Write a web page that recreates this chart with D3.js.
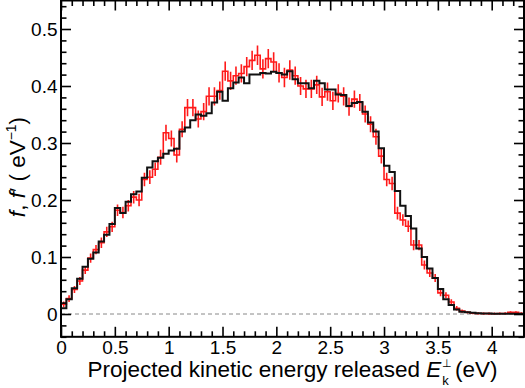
<!DOCTYPE html>
<html>
<head>
<meta charset="utf-8">
<script src="https://cdn.jsdelivr.net/npm/d3@7"></script>
<style>
  body { margin: 0; background: #fff; }
  svg { display: block; font-family: "Liberation Sans", Arial, sans-serif; }
</style>
</head>
<body>
<svg width="525" height="388"></svg>
<script>
// bins of 0.05 eV from 0 to 4.3
const binWidth = 0.05;

// black histogram f
const fBlack = [
  0.010, 0.026, 0.045, 0.062, 0.083, 0.097, 0.108, 0.127, 0.139, 0.158,
  0.186, 0.177, 0.197, 0.210, 0.215, 0.239, 0.257, 0.268, 0.274, 0.281,
  0.287, 0.290, 0.320, 0.327, 0.340, 0.350, 0.348, 0.352, 0.371, 0.390,
  0.374, 0.396, 0.406, 0.415, 0.405, 0.420, 0.420, 0.423, 0.422, 0.425,
  0.423, 0.420, 0.426, 0.412, 0.405, 0.405, 0.396, 0.409, 0.405, 0.394,
  0.394, 0.385, 0.384, 0.365, 0.370, 0.372, 0.355, 0.336, 0.320, 0.291,
  0.260, 0.249, 0.216, 0.190, 0.172, 0.150, 0.115, 0.100, 0.080, 0.063,
  0.044, 0.026, 0.016, 0.008, 0.004, 0.003, 0.002, 0.0015, 0.001, 0.0008,
  0.0006, 0.0005, 0.0005, 0.0005, 0.0004, 0.0004
];

// red histogram f' with error bars
const fRed = [
  0.017, 0.027, 0.043, 0.058, 0.077, 0.098, 0.113, 0.125, 0.144, 0.153,
  0.182, 0.178, 0.190, 0.205, 0.200, 0.236, 0.240, 0.254, 0.275, 0.318,
  0.308, 0.279, 0.324, 0.362, 0.362, 0.342, 0.355, 0.382, 0.382, 0.392,
  0.426, 0.409, 0.418, 0.422, 0.434, 0.445, 0.454, 0.430, 0.448, 0.442,
  0.423, 0.415, 0.428, 0.418, 0.400, 0.395, 0.395, 0.402, 0.381, 0.390,
  0.374, 0.387, 0.382, 0.364, 0.377, 0.371, 0.351, 0.333, 0.311, 0.277,
  0.236, 0.229, 0.177, 0.165, 0.154, 0.121, 0.121, 0.086, 0.072, 0.063,
  0.037, 0.033, 0.021, 0.010, 0.005, 0.003, 0.0015, 0.001, 0.0008, 0.0006,
  0.0005, 0.0008, 0.001, 0.003, 0.003, 0.001
];

const fRedErr = [
  0.005, 0.006, 0.006, 0.007, 0.007, 0.008, 0.008, 0.009, 0.009, 0.009,
  0.010, 0.010, 0.010, 0.011, 0.011, 0.012, 0.012, 0.012, 0.013, 0.014,
  0.014, 0.013, 0.014, 0.015, 0.015, 0.015, 0.015, 0.016, 0.016, 0.016,
  0.017, 0.016, 0.016, 0.016, 0.017, 0.017, 0.017, 0.017, 0.017, 0.017,
  0.017, 0.017, 0.017, 0.016, 0.016, 0.016, 0.016, 0.016, 0.016, 0.016,
  0.016, 0.016, 0.016, 0.016, 0.015, 0.015, 0.015, 0.014, 0.014, 0.013,
  0.012, 0.012, 0.011, 0.010, 0.010, 0.009, 0.009, 0.008, 0.007, 0.007,
  0.006, 0.005, 0.005, 0.004, 0.003, 0.002, 0.002, 0.002, 0.002, 0.002,
  0.002, 0.002, 0.002, 0.002, 0.002, 0.002
];

const xTicks = [0, 0.5, 1, 1.5, 2, 2.5, 3, 3.5, 4];
const xTickLabels = ['0', '0.5', '1', '1.5', '2', '2.5', '3', '3.5', '4'];
const yTicks = [0, 0.1, 0.2, 0.3, 0.4, 0.5];
const yTickLabels = ['0', '0.1', '0.2', '0.3', '0.4', '0.5'];

var svg = d3.select('svg');

var x = d3.scaleLinear().domain([0, 4.3]).range([61, 524]);
var y = d3.scaleLinear().domain([-0.04, 0.55]).range([336.8, 0.5]);

var pLeft = x.range()[0], pRight = x.range()[1],
    pTop = y.range()[1], pBottom = y.range()[0];

var xMinor = d3.range(0, 43).map(i => i / 10).filter(v => Math.abs(v * 2 - Math.round(v * 2)) > 1e-6);
var yMinor = d3.range(-2, 28).map(i => i / 50).filter(v => Math.abs(v * 10 - Math.round(v * 10)) > 1e-6);

svg.append('defs').append('clipPath').attr('id', 'plot')
  .append('rect').attr('x', pLeft).attr('y', pTop)
  .attr('width', pRight - pLeft).attr('height', pBottom - pTop);

// zero line
svg.append('line')
  .attr('x1', pLeft).attr('x2', pRight)
  .attr('y1', y(0)).attr('y2', y(0))
  .attr('stroke', '#888').attr('stroke-width', 1)
  .attr('stroke-dasharray', '4,3');

function stepPoints(vals) {
  var p = vals.map((v, i) => [i * binWidth, v]);
  p.push([vals.length * binWidth, vals[vals.length - 1]]);
  return p;
}

var step = d3.line()
  .curve(d3.curveStepAfter)
  .x(d => x(d[0]))
  .y(d => y(d[1]));

var plot = svg.append('g').attr('clip-path', 'url(#plot)');

// red histogram + error bars
plot.append('path')
  .datum(stepPoints(fRed))
  .attr('d', step)
  .attr('fill', 'none')
  .attr('stroke', '#ff1a1a')
  .attr('stroke-width', 1.6);

plot.append('g').selectAll('line')
  .data(fRed)
  .enter().append('line')
  .attr('x1', (d, i) => x((i + 0.5) * binWidth))
  .attr('x2', (d, i) => x((i + 0.5) * binWidth))
  .attr('y1', (d, i) => y(d - fRedErr[i]))
  .attr('y2', (d, i) => y(d + fRedErr[i]))
  .attr('stroke', '#ff1a1a')
  .attr('stroke-width', 1.6);

// black histogram
plot.append('path')
  .datum(stepPoints(fBlack))
  .attr('d', step)
  .attr('fill', 'none')
  .attr('stroke', '#111')
  .attr('stroke-width', 2);

// axes: ticks inside on all four sides
function drawAxis(makeAxis, tr, major, labels, minor, withLabels) {
  var g = svg.append('g').attr('transform', tr)
    .call(makeAxis().tickValues(major).tickSize(-10).tickPadding(3.5)
      .tickFormat((d, i) => withLabels ? labels[i] : ''));
  g.select('.domain').remove();
  g.selectAll('line').attr('stroke', '#000').attr('stroke-width', 1.6);
  g.selectAll('text').style('font-size', '19px').attr('fill', '#000')
    .style('font-family', '"Liberation Sans", Arial, sans-serif');
  var gm = svg.append('g').attr('transform', tr)
    .call(makeAxis().tickValues(minor).tickSize(-5.5).tickFormat(''));
  gm.select('.domain').remove();
  gm.selectAll('line').attr('stroke', '#000').attr('stroke-width', 1.6);
}

drawAxis(() => d3.axisBottom(x), `translate(0,${pBottom})`, xTicks, xTickLabels, xMinor, true);
drawAxis(() => d3.axisTop(x), `translate(0,${pTop})`, xTicks, xTickLabels, xMinor, false);
drawAxis(() => d3.axisLeft(y), `translate(${pLeft},0)`, yTicks, yTickLabels, yMinor, true);
drawAxis(() => d3.axisRight(y), `translate(${pRight},0)`, yTicks, yTickLabels, yMinor, false);

svg.append('rect')
  .attr('x', pLeft).attr('y', pTop)
  .attr('width', pRight - pLeft).attr('height', pBottom - pTop)
  .attr('fill', 'none').attr('stroke', '#000').attr('stroke-width', 2);

// x title
var xt = svg.append('text')
  .attr('x', (pLeft + pRight) / 2).attr('y', 377)
  .attr('text-anchor', 'middle')
  .style('font-size', '22.5px');
xt.append('tspan').text('Projected kinetic energy released ');
xt.append('tspan').style('font-style', 'italic').text('E');
var sup = xt.append('tspan').attr('dx', 1).attr('dy', -10.5).style('font-size', '11px').text('⊥');
var sub = xt.append('tspan').attr('dy', 18.5).style('font-size', '13px').text('k');
xt.append('tspan').attr('dy', -8).text(' (eV)');
sub.attr('dx', -sup.node().getComputedTextLength());

// y title
var yt = svg.append('text')
  .attr('transform', 'translate(25,167) rotate(-90)')
  .attr('text-anchor', 'middle')
  .style('font-size', '22.5px');
yt.append('tspan').style('font-style', 'italic').text('f');
yt.append('tspan').text(', ');
yt.append('tspan').style('font-style', 'italic').text('f');
yt.append('tspan').text('′ ( eV');
yt.append('tspan').attr('dy', -9).style('font-size', '14px').text('−1');
yt.append('tspan').attr('dy', 9).text(')');
</script>
</body>
</html>
